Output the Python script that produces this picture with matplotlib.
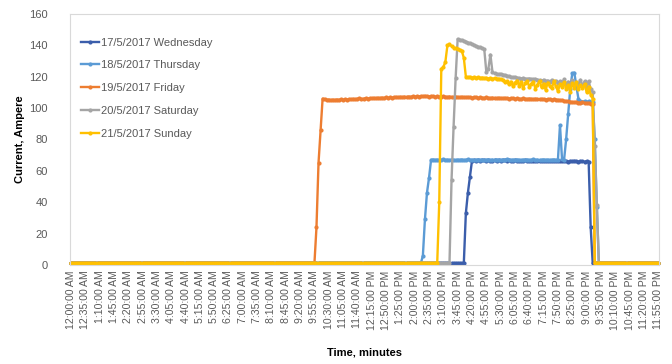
import matplotlib
matplotlib.use("Agg")
import matplotlib.pyplot as plt
import numpy as np

# 5-minute samples over one day (288 points), values in Ampere
wednesday = ([1.0] * 193
             + [33, 46, 56, 66.5]
             + [66.6, 66.4, 66.7, 66.5, 66.8, 66.6, 66.4, 66.7, 66.5, 66.3,
                66.6, 66.4, 66.7, 66.5, 66.8, 66.6, 66.4, 66.7, 66.5, 66.3,
                66.6, 66.4, 66.2, 66.5, 66.3, 66.6, 66.4, 66.2, 66.5, 66.3,
                66.1, 66.4, 66.2, 66.5, 66.3, 66.1, 66.4, 66.2, 66.0, 66.3,
                66.1, 66.4, 66.2, 66.0, 66.3, 66.1, 65.9, 66.2, 66.0, 66.3,
                66.1, 65.9, 66.2, 66.0, 65.8, 66.1, 65.9]
             + [24]
             + [1.0] * 33)

thursday = ([1.0] * 172
            + [6, 29, 46, 55.5, 67]
            + [67.2, 66.9, 67.1, 66.8, 67.0, 67.3, 66.9, 67.1, 66.8, 67.2,
               67.0, 66.7, 67.1, 66.9, 67.2, 66.8, 67.0, 67.3, 66.9, 67.1,
               66.8, 67.0, 67.2, 66.9, 67.1, 66.7, 67.0, 67.2, 66.8, 67.1,
               66.9, 67.2, 67.0, 66.8, 67.1, 66.9, 67.3, 67.0, 66.8, 67.1,
               66.9, 67.2, 67.0, 66.7, 67.1, 66.9, 67.2, 66.8, 67.0, 67.3,
               66.9, 67.1, 66.8, 67.0, 67.2, 66.9, 67.1, 66.8, 67.0, 67.2,
               66.9, 67.1]
            + [89, 67.5, 67]
            + [80, 96, 112, 122, 122.5, 114, 106]
            + [104.5, 104.0, 104.3, 103.9, 104.2, 104.0, 103.8]
            + [80, 37]
            + [1.0] * 30)

friday = ([1.0] * 120
          + [24, 65, 86, 106]
          + [105.6, 105.2, 105.4, 105.0, 105.3, 105.1, 105.4, 105.2, 105.5, 105.3, 105.6, 105.4,
             105.7, 105.5, 105.8, 105.6, 105.9, 106.1, 105.8, 106.0, 106.2, 105.9, 106.3, 106.1,
             106.4, 106.2, 106.5, 106.3, 106.6, 106.4, 106.7, 106.5, 106.8, 106.6, 106.9, 107.0,
             106.8, 107.1, 106.9, 107.2, 107.0, 107.3, 107.1, 107.4, 107.2, 107.5, 107.3, 107.6,
             107.4, 107.7, 107.5, 107.3, 107.6, 107.4, 107.2, 107.5, 107.3, 107.1, 107.4, 107.2,
             107.0, 107.3, 107.1, 106.9, 107.2, 107.0, 106.8, 107.1, 106.9, 106.7, 107.0, 106.8,
             106.6, 106.9, 106.7, 106.5, 106.8, 106.6, 106.4, 106.7, 106.5, 106.3, 106.6, 106.4,
             106.2, 106.5, 106.3, 106.1, 106.4, 106.2, 106.0, 106.3, 106.1, 105.9, 106.2, 106.0,
             105.8, 106.1, 105.9, 105.7, 106.0, 105.8, 105.6, 105.9, 105.7, 105.5, 105.8, 105.6,
             105.4, 105.7, 105.5, 105.3, 105.6, 105.4, 105.2, 105.0, 104.8, 104.6, 104.4, 104.2,
             104.0, 103.8, 103.6, 103.9, 103.5, 103.2, 103.6, 103.3, 102.9, 103.1, 102.8, 102.6]
          + [1.0] * 32)

saturday = ([1.0] * 186
            + [54, 88, 119, 144]
            + [143.5, 143.2, 142.6, 142.3, 141.7, 141.2, 140.6, 140.1, 139.5, 139.0,
               138.6, 138.0, 137.4]
            + [123, 125, 134, 123, 122]
            + [121.8, 121.5, 121.7, 121.3, 121.0, 120.6, 120.2, 119.8, 119.5, 119.7,
               119.3, 119.0, 118.8, 119.1, 118.7, 118.5, 118.8, 118.4, 118.2, 118.5, 118.1]
            + [117.8, 117.2, 118.0, 116.9, 117.5, 116.6, 117.9, 116.3, 117.4, 115.8,
               117.1, 116.0, 118.2, 115.4, 116.8, 114.9, 117.6, 113.8, 116.5, 115.2,
               118.0, 114.1, 116.9, 113.5, 117.2, 112.0]
            + [110, 76, 38]
            + [1.0] * 30)

sunday = ([1.0] * 180
          + [40, 125, 126, 129.5, 140, 140.5, 139.5, 138.5, 138, 137.5, 137, 136.5, 132, 120]
          + [119.6, 119.8, 119.4, 119.7, 119.3, 119.5, 119.1, 119.4, 119.0, 119.2,
             118.8, 119.1, 118.7, 118.9, 118.5, 118.7, 118.3]
          + [117.8, 116.5, 117.2, 115.0, 116.8, 113.9, 116.2, 117.5, 114.2, 116.6,
             112.8, 115.9, 117.0, 113.5, 115.4, 116.8, 112.2, 114.9, 117.3, 113.1,
             115.6, 111.5, 116.2, 114.0, 112.6, 116.9, 113.8, 110.8, 115.2, 113.4,
             116.5, 112.1, 114.7, 110.5, 115.8, 113.0, 116.3, 111.9, 114.4, 112.7,
             115.1, 110.2, 113.6, 108.5]
          + [106]
          + [1.0] * 32)

series_names = ['17/5/2017 Wednesday', '18/5/2017 Thursday', '19/5/2017 Friday',
                '20/5/2017 Saturday', '21/5/2017 Sunday']
series_values = [wednesday, thursday, friday, saturday, sunday]
series_colors = ['#3B5EAB', '#5B9BD5', '#ED7D31', '#A5A5A5', '#FFC000']

# one label every 7 samples (35 minutes)
tick_labels = ['12:00:00 AM', '12:35:00 AM', '1:10:00 AM', '1:45:00 AM', '2:20:00 AM',
               '2:55:00 AM', '3:30:00 AM', '4:05:00 AM', '4:40:00 AM', '5:15:00 AM',
               '5:50:00 AM', '6:25:00 AM', '7:00:00 AM', '7:35:00 AM', '8:10:00 AM',
               '8:45:00 AM', '9:20:00 AM', '9:55:00 AM', '10:30:00 AM', '11:05:00 AM',
               '11:40:00 AM', '12:15:00 PM', '12:50:00 PM', '1:25:00 PM', '2:00:00 PM',
               '2:35:00 PM', '3:10:00 PM', '3:45:00 PM', '4:20:00 PM', '4:55:00 PM',
               '5:30:00 PM', '6:05:00 PM', '6:40:00 PM', '7:15:00 PM', '7:50:00 PM',
               '8:25:00 PM', '9:00:00 PM', '9:35:00 PM', '10:10:00 PM', '10:45:00 PM',
               '11:20:00 PM', '11:55:00 PM']
tick_step = 7

plt.rcParams['font.family'] = ['Liberation Sans', 'DejaVu Sans']

fig = plt.figure(figsize=(6.72, 3.64), dpi=100)
ax = fig.add_axes([0.104, 0.272, 0.877, 0.690])

for name, vals, col in zip(series_names, series_values, series_colors):
    x = np.arange(len(vals))
    ax.plot(x, vals, color=col, linewidth=1.7, marker='o', markersize=2,
            label=name, clip_on=False)

ax.set_xlim(-0.5, 287.5)
ax.set_ylim(0, 160)
ax.set_yticks(np.arange(0, 161, 20))
ax.set_xticks(np.arange(len(tick_labels)) * tick_step)
ax.set_xticklabels(tick_labels, rotation=90, fontsize=7.6, color='#595959')
ax.tick_params(axis='y', labelsize=8, colors='#595959', length=0, pad=16)
ax.tick_params(axis='x', length=0, pad=4)

for s in ax.spines.values():
    s.set_color('#D9D9D9')
    s.set_linewidth(0.8)

ax.set_ylabel('Current, Ampere', fontsize=8, fontweight='bold', labelpad=3)
ax.set_xlabel('Time, minutes', fontsize=8, fontweight='bold', labelpad=13)

leg = ax.legend(loc='upper left', bbox_to_anchor=(0.0, 0.95), frameon=False,
                fontsize=8, labelspacing=1.15, handlelength=1.6, handletextpad=0.2,
                borderaxespad=0.6)
for t in leg.get_texts():
    t.set_color('#595959')

fig.savefig('out.png', dpi=100)
